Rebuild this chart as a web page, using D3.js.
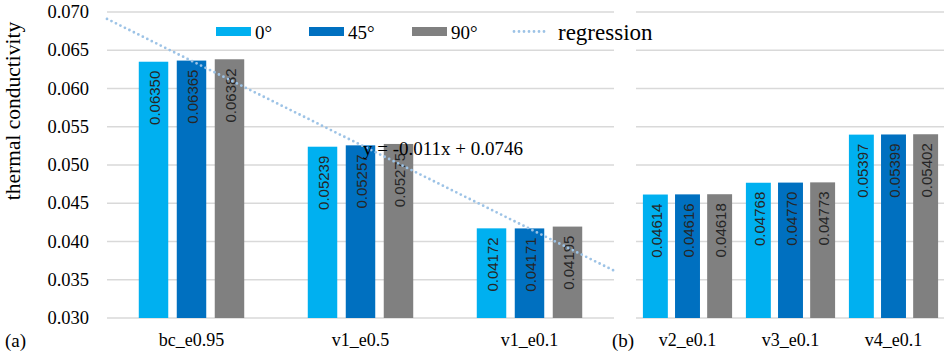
<!DOCTYPE html>
<html>
<head>
<meta charset="utf-8">
<script src="https://cdn.jsdelivr.net/npm/d3@7"></script>
<style>
  html, body { margin: 0; padding: 0; background: #fff; }
  svg { display: block; }
</style>
</head>
<body>
<svg id="chart" width="944" height="356"></svg>
<script>
// Thermal conductivity by orientation angle
const seriesNames = ["0°", "45°", "90°"];
const seriesColors = ["#00b0f0", "#0070c0", "#808080"];

// Panel (a)
const catsA = ["bc_e0.95", "v1_e0.5", "v1_e0.1"];
const a0 = [0.06350, 0.05239, 0.04172];
const a45 = [0.06365, 0.05257, 0.04171];
const a90 = [0.06382, 0.05275, 0.04195];

// Panel (b)
const catsB = ["v2_e0.1", "v3_e0.1", "v4_e0.1"];
const b0 = [0.04614, 0.04768, 0.05397];
const b45 = [0.04616, 0.04770, 0.05399];
const b90 = [0.04618, 0.04773, 0.05402];

const yTicks = [0.030, 0.035, 0.040, 0.045, 0.050, 0.055, 0.060, 0.065, 0.070];

const SERIF = "'Liberation Serif', 'Times New Roman', 'DejaVu Serif', serif";
const SANS = "'Liberation Sans', Arial, sans-serif";

const svg = d3.select("#chart");
const y = d3.scaleLinear().domain([0.030, 0.070]).range([318, 12]);

function serifText(sel, size) {
  return sel.attr("font-family", SERIF).attr("font-size", size).attr("fill", "#000");
}

// Y axis tick labels
serifText(svg.append("g").selectAll("text").data(yTicks).join("text"), 18.5)
  .attr("x", 89).attr("y", d => y(d))
  .attr("text-anchor", "end").attr("dominant-baseline", "central")
  .text(d => d.toFixed(3));

serifText(svg.append("text"), 21.5)
  .attr("transform", "translate(13,111) rotate(-90)")
  .attr("text-anchor", "middle").attr("dominant-baseline", "central")
  .text("thermal conductivity");

function drawPanel(cats, series, x0, x1, groupPad, tag, tagX) {
  const g = svg.append("g");
  const outer = d3.scaleBand().domain(cats).range([x0, x1])
    .paddingInner(groupPad).paddingOuter(groupPad / 2);
  const inner = d3.scaleBand().domain(seriesNames).range([0, outer.bandwidth()])
    .paddingInner(0.224);

  // gridlines
  g.append("g").selectAll("line").data(yTicks).join("line")
    .attr("x1", x0).attr("x2", x1)
    .attr("y1", d => y(d)).attr("y2", d => y(d))
    .attr("stroke", "#d9d9d9").attr("stroke-width", 1.5);

  const rows = [];
  cats.forEach((c, i) => series.forEach((s, k) =>
    rows.push({ cat: c, name: seriesNames[k], color: seriesColors[k], v: s[i] })));

  g.append("g").selectAll("rect").data(rows).join("rect")
    .attr("x", d => outer(d.cat) + inner(d.name))
    .attr("y", d => y(d.v))
    .attr("width", inner.bandwidth())
    .attr("height", d => y(0.030) - y(d.v))
    .attr("fill", d => d.color);

  g.append("g").selectAll("text").data(rows).join("text")
    .attr("font-family", SANS).attr("font-size", 15).attr("fill", "#262626")
    .attr("transform", d => {
      const cx = outer(d.cat) + inner(d.name) + inner.bandwidth() / 2 + 1;
      return `translate(${cx},${y(d.v) + 9}) rotate(-90)`;
    })
    .attr("text-anchor", "end").attr("dominant-baseline", "central")
    .text(d => d.v.toFixed(5));

  serifText(g.append("g").selectAll("text").data(cats).join("text"), 18)
    .attr("x", d => outer(d) + outer.bandwidth() / 2).attr("y", 346)
    .attr("text-anchor", "middle")
    .text(d => d);

  serifText(svg.append("text"), 19)
    .attr("x", tagX).attr("y", 347).text(tag);

  return outer;
}

drawPanel(catsA, [a0, a45, a90], 107, 614, 0.376, "(a)", 5);
drawPanel(catsB, [b0, b45, b90], 636, 945, 0.134, "(b)", 612);

// Linear regression of the 45° series over category index 1..n
const xs = catsA.map((_, i) => i + 1);
const mx = d3.mean(xs), my = d3.mean(a45);
const slope = d3.sum(xs, (x, i) => (x - mx) * (a45[i] - my)) / d3.sum(xs, x => (x - mx) ** 2);
const intercept = my - slope * mx;

const xIdx = d3.scaleLinear().domain([0.5, catsA.length + 0.5]).range([107, 614]);
svg.append("path")
  .datum([0.5, catsA.length + 0.5])
  .attr("d", d3.line().x(d => xIdx(d)).y(d => y(slope * d + intercept)))
  .attr("fill", "none").attr("stroke", "#9dc3e6").attr("stroke-width", 2.8)
  .attr("stroke-linecap", "round").attr("stroke-dasharray", "0 5");

serifText(svg.append("text"), 19)
  .attr("x", 363).attr("y", 155)
  .text(`y = ${slope.toFixed(3)}x + ${intercept.toFixed(4)}`);

// Legend
const legendX = [216, 309, 412];
const lg = svg.append("g");
seriesNames.forEach((n, k) => {
  lg.append("rect").attr("x", legendX[k]).attr("y", 27).attr("width", 35).attr("height", 9)
    .attr("fill", seriesColors[k]);
  serifText(lg.append("text"), 19)
    .attr("x", legendX[k] + 39).attr("y", 32).attr("dominant-baseline", "central")
    .text(n);
});
lg.append("line").attr("x1", 514).attr("x2", 547).attr("y1", 31.5).attr("y2", 31.5)
  .attr("stroke", "#9dc3e6").attr("stroke-width", 2.8)
  .attr("stroke-linecap", "round").attr("stroke-dasharray", "0 5");
serifText(lg.append("text"), 23)
  .attr("x", 558).attr("y", 32).attr("dominant-baseline", "central")
  .text("regression");
</script>
</body>
</html>
